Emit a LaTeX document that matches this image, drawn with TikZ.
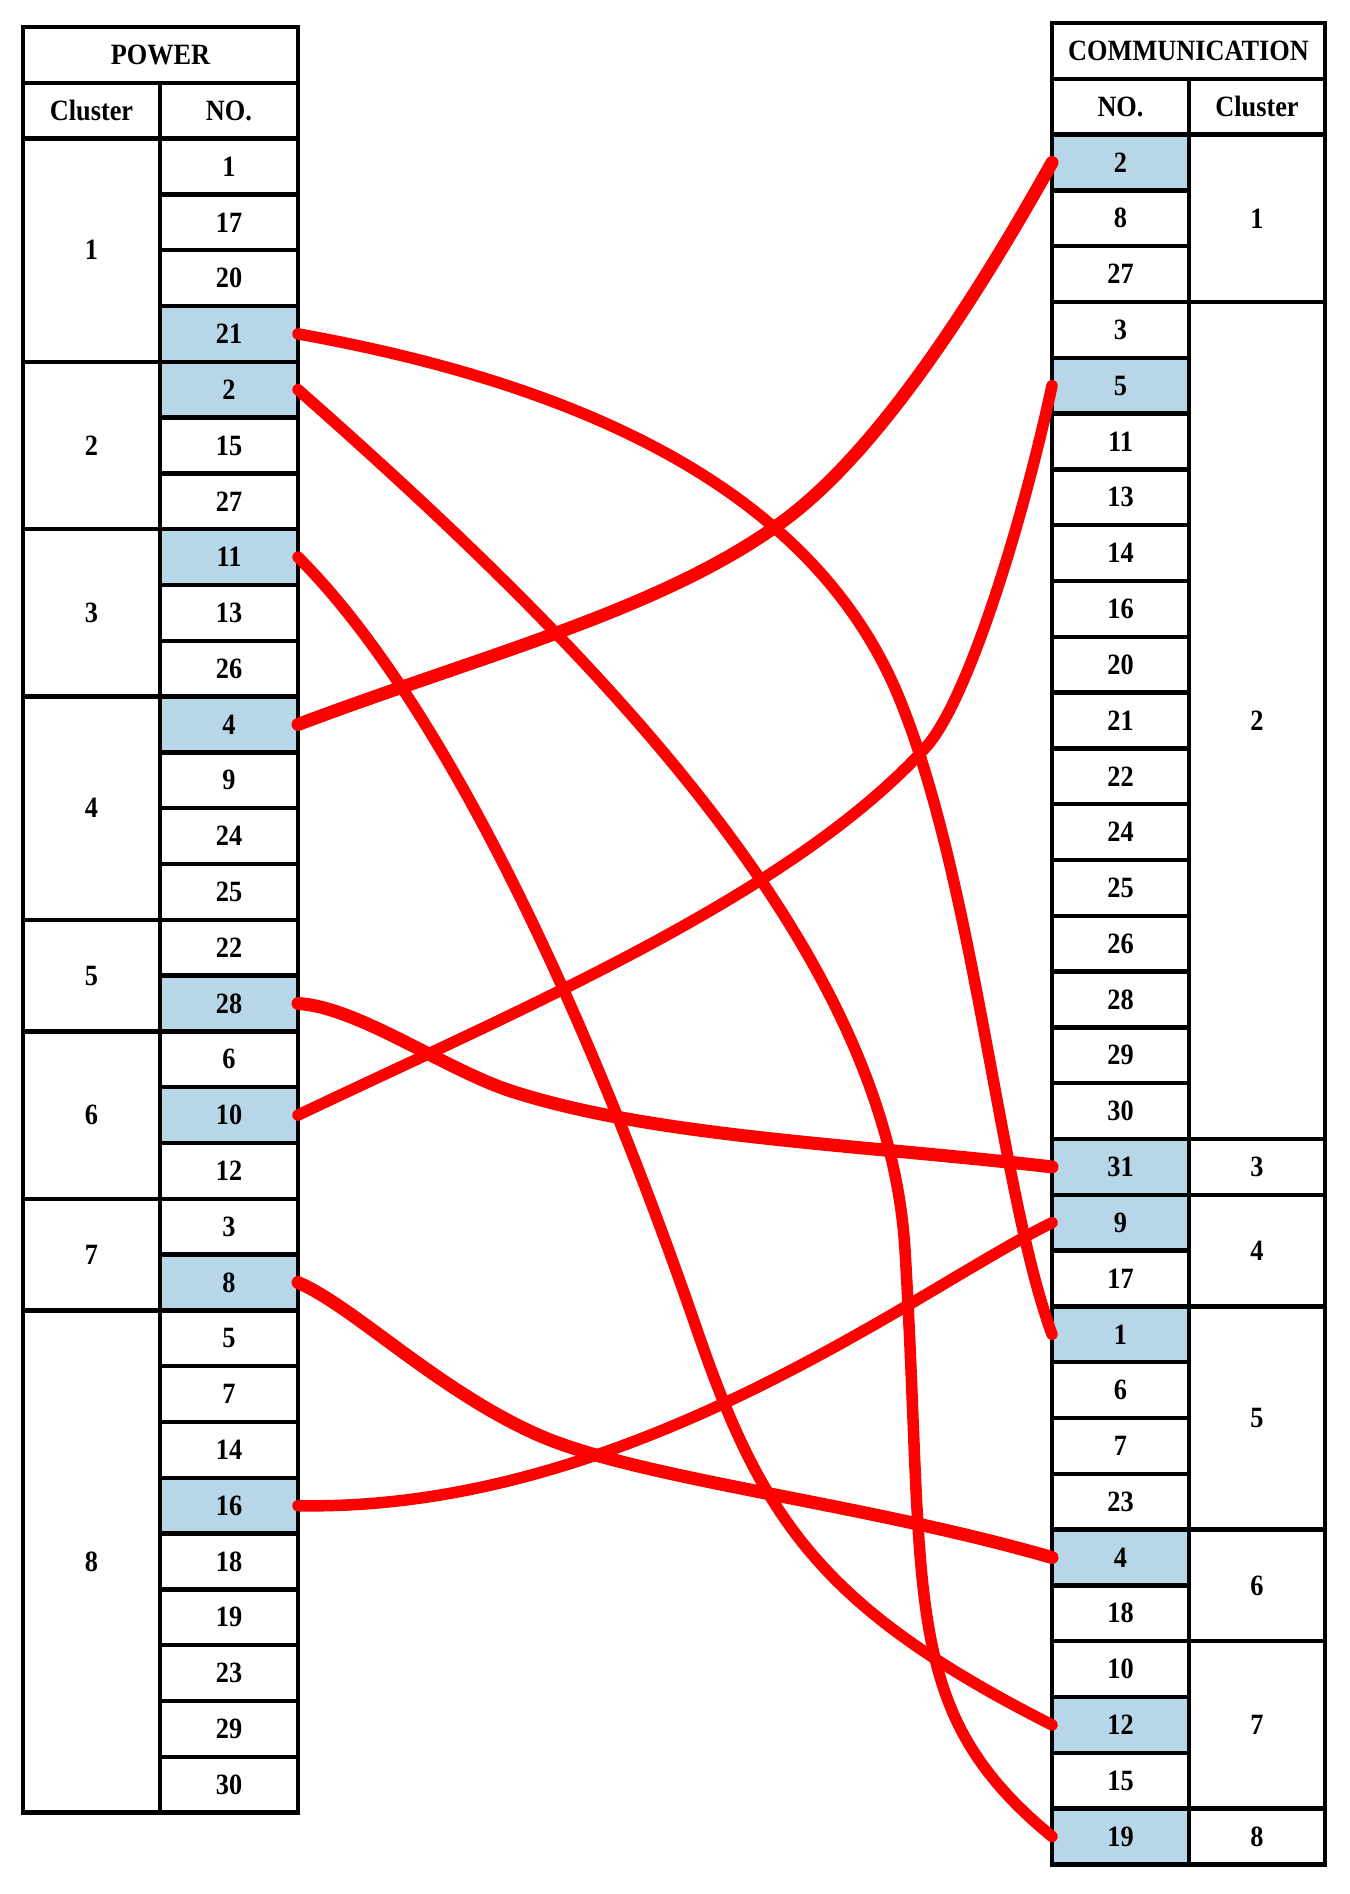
\documentclass[tikz,border=0pt]{standalone}
\usepackage{fontspec}
\setmainfont{Liberation Serif}
\usepackage{graphicx}
\definecolor{hl}{RGB}{183,215,232}
\newcommand\vs[1]{\scalebox{1}[1.12]{#1}}
\begin{document}
\begin{tikzpicture}[x=1pt,y=-1pt,
  cell/.style={draw=black, line width=4.3pt, minimum height=55.8pt, inner sep=0pt, outer sep=0pt,
    font=\fontsize{26.3}{28}\selectfont\bfseries, anchor=center},
  link/.style={draw=red, line width=11.5pt, line cap=round, line join=round},
  boldlink/.style={link, line width=13pt}]
\useasboundingbox (0,0) rectangle (1349,1894);
% ---------------- POWER table ----------------
\node[cell, minimum width=275pt] (ptitle) at (160.5,54.9) {\vs{POWER}};
\node[cell, minimum width=137pt] (pcl) at (91.5,110.7) {\vs{Cluster}};
\node[cell, minimum width=138pt] (pno) at (229,110.7) {\vs{NO.}};
\foreach \c/\s/\n in {1/2/4,2/6/3,3/9/3,4/12/4,5/16/2,6/18/3,7/21/2,8/23/9}{
  \pgfmathsetmacro\yy{27+(\s+\n/2)*55.8}
  \pgfmathsetmacro\hh{\n*55.8}
  \node[cell, minimum width=137pt, minimum height=\hh pt] (pc\c) at (91.5,\yy) {\vs{\c}};
}
\foreach \v/\f [count=\k from 2] in {1/white,17/white,20/white,21/hl,2/hl,15/white,27/white,11/hl,13/white,26/white,4/hl,9/white,24/white,25/white,22/white,28/hl,6/white,10/hl,12/white,3/white,8/hl,5/white,7/white,14/white,16/hl,18/white,19/white,23/white,29/white,30/white}{
  \pgfmathsetmacro\yy{27+(\k+0.5)*55.8}
  \node[cell, fill=\f, minimum width=138pt] (p\v) at (229,\yy) {\vs{\v}};
}
% ---------------- COMMUNICATION table ----------------
\node[cell, minimum width=273pt] (ctitle) at (1188.5,50.9) {\vs{COMMUNICATION}};
\node[cell, minimum width=137pt] (cno) at (1120.5,106.7) {\vs{NO.}};
\node[cell, minimum width=136pt] (ccl) at (1257,106.7) {\vs{Cluster}};
\foreach \c/\s/\n in {1/2/3,2/5/15,3/20/1,4/21/2,5/23/4,6/27/2,7/29/3,8/32/1}{
  \pgfmathsetmacro\yy{23+(\s+\n/2)*55.8}
  \pgfmathsetmacro\hh{\n*55.8}
  \node[cell, minimum width=136pt, minimum height=\hh pt] (cc\c) at (1257,\yy) {\vs{\c}};
}
\foreach \v/\f [count=\k from 2] in {2/hl,8/white,27/white,3/white,5/hl,11/white,13/white,14/white,16/white,20/white,21/white,22/white,24/white,25/white,26/white,28/white,29/white,30/white,31/hl,9/hl,17/white,1/hl,6/white,7/white,23/white,4/hl,18/white,10/white,12/hl,15/white,19/hl}{
  \pgfmathsetmacro\yy{23+(\k+0.5)*55.8}
  \node[cell, fill=\f, minimum width=137pt] (c\v) at (1120.5,\yy) {\vs{\v}};
}
% ---------------- links ----------------
\draw[link] (p21.east) .. controls (628,393) and (825,515) .. (900,700) .. controls (975,885) and (1000,1193) .. (c1.west);
\draw[link] (p2.east) .. controls (598,654) and (887,950) .. (905,1250) .. controls (926,1600) and (898,1710) .. (c19.west);
\draw[link] (p11.east) .. controls (439,698) and (583,999) .. (697,1330) .. controls (762,1519) and (821,1608) .. (c12.west);
\draw[boldlink] (p4.east) .. controls (485,654) and (666,609) .. (786,519) .. controls (882,447) and (979,293) .. (c2.west);
\draw[link] (p10.east) .. controls (523,1008) and (792,895) .. (926,747) .. controls (966,703) and (1020,533) .. (c5.west);
\draw[boldlink] (p28.east) .. controls (358,1007) and (444,1069) .. (511,1091) .. controls (653,1137) and (854,1144) .. (c31.west);
\draw[link] (p16.east) .. controls (630,1512) and (917,1289) .. (c9.west);
\draw[boldlink] (p8.east) .. controls (353,1306) and (436,1389) .. (536,1434) .. controls (636,1479) and (860,1502) .. (c4.west);
\end{tikzpicture}
\end{document}
